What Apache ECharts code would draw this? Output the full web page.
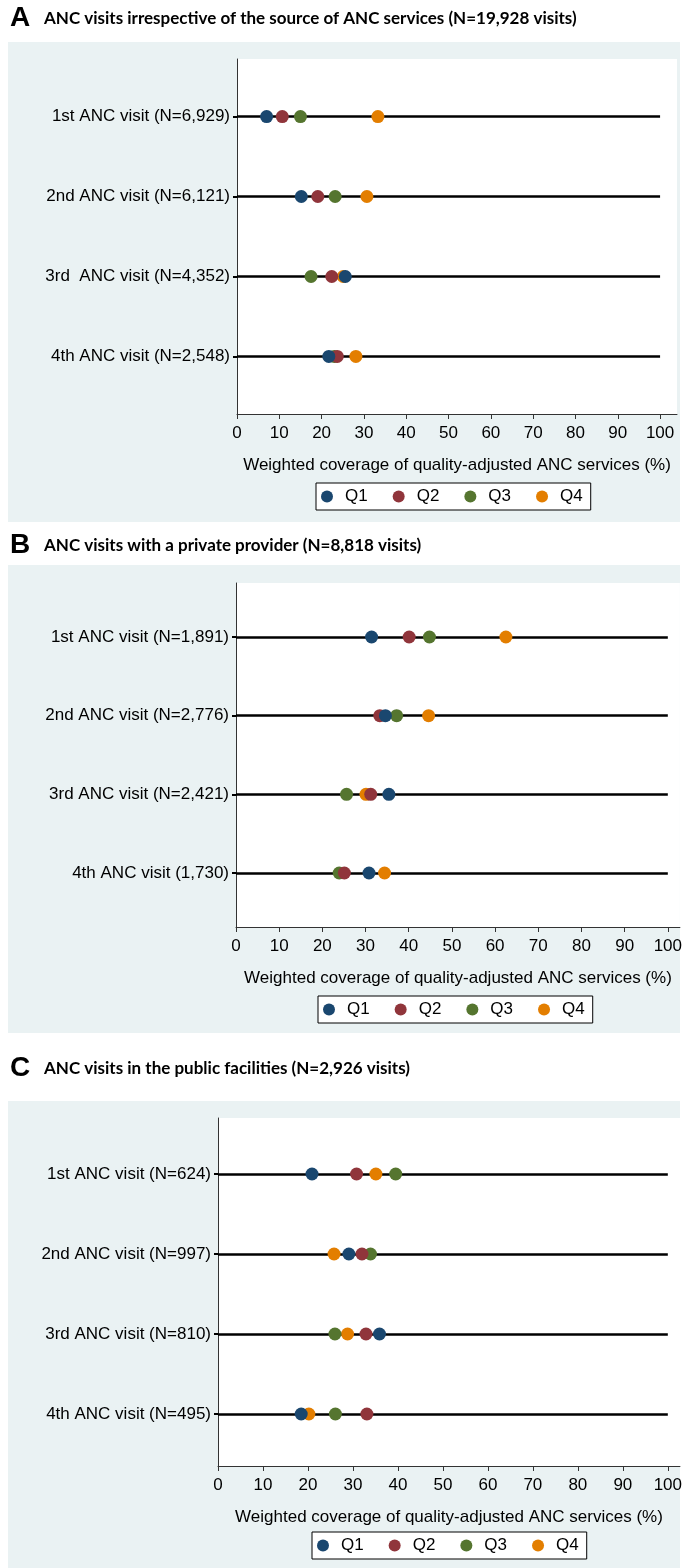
<!DOCTYPE html>
<html>
<head>
<meta charset="utf-8">
<script src="https://cdn.jsdelivr.net/npm/echarts@6/dist/echarts.min.js"></script>
<style>
  html, body { margin: 0; padding: 0; background: #fff; }
  #chart { width: 685px; height: 1568px; }
</style>
</head>
<body>
<div id="chart"></div>
<script>
// Wealth quintiles and their colours
const quintiles = ['Q1', 'Q2', 'Q3', 'Q4'];
const quintileColors = ['#1a476f', '#90353b', '#55752f', '#e37e00'];

// Panel A: all ANC visits
const titleA = 'ANC visits irrespective of the source of ANC services (N=19,928 visits)';
const visitsA = ['1st ANC visit (N=6,929)', '2nd ANC visit (N=6,121)', '3rd  ANC visit (N=4,352)', '4th ANC visit (N=2,548)'];
const q1A = [7.0, 15.2, 25.6, 21.7];
const q2A = [10.7, 19.1, 22.4, 23.7];
const q3A = [15.0, 23.2, 17.5, 23.0];
const q4A = [33.3, 30.7, 25.1, 28.1];

// Panel B: private provider
const titleB = 'ANC visits with a private provider (N=8,818 visits)';
const visitsB = ['1st ANC visit (N=1,891)', '2nd ANC visit (N=2,776)', '3rd ANC visit (N=2,421)', '4th ANC visit (1,730)'];
const q1B = [31.4, 34.6, 35.4, 30.8];
const q2B = [40.1, 33.3, 31.2, 25.1];
const q3B = [44.8, 37.2, 25.6, 23.9];
const q4B = [62.5, 44.6, 30.1, 34.4];

// Panel C: public facilities
const titleC = 'ANC visits in the public facilities (N=2,926 visits)';
const visitsC = ['1st ANC visit (N=624)', '2nd ANC visit (N=997)', '3rd ANC visit (N=810)', '4th ANC visit (N=495)'];
const q1C = [20.9, 29.1, 35.9, 18.5];
const q2C = [30.8, 32.0, 32.9, 33.1];
const q3C = [39.5, 33.9, 26.0, 26.1];
const q4C = [35.1, 25.8, 28.8, 20.2];

// Axis ticks and title
const xTicks = [0, 10, 20, 30, 40, 50, 60, 70, 80, 90, 100];
const xTitle = 'Weighted coverage of quality-adjusted ANC services (%)';

const panels = [
  { letter: 'A', title: titleA, visits: visitsA, values: [q1A, q2A, q3A, q4A],
    layout: { titleY: 20, bg: [8, 42, 672, 480], left: 237, top: 59, width: 440, height: 355,
              xMax: 104, yMin: 0.28, yMax: 4.72, legendLeft: 316, legendTop: 483 } },
  { letter: 'B', title: titleB, visits: visitsB, values: [q1B, q2B, q3B, q4B],
    layout: { titleY: 547, bg: [8, 565, 672, 468], left: 236, top: 583, width: 444, height: 344,
              xMax: 102.8, yMin: 0.314, yMax: 4.686, legendLeft: 318, legendTop: 996 } },
  { letter: 'C', title: titleC, visits: visitsC, values: [q1C, q2C, q3C, q4C],
    layout: { titleY: 1070, bg: [8, 1101, 672, 467], left: 218, top: 1118, width: 462, height: 348,
              xMax: 102.7, yMin: 0.3, yMax: 4.65, legendLeft: 312, legendTop: 1532 } }
];

const font = "'Liberation Sans', Arial, sans-serif";
const axisColor = '#333';
const fs = 17;

const grids = [], xAxes = [], yAxes = [], series = [], legends = [], graphics = [];

panels.forEach((p, pi) => {
  const L = p.layout;
  // panel background (graph region)
  graphics.push({ type: 'rect', z: -10, silent: true,
    shape: { x: L.bg[0], y: L.bg[1], width: L.bg[2], height: L.bg[3] },
    style: { fill: '#eaf2f3' } });
  graphics.push({ type: 'text', left: 10, top: L.titleY - 16, z: 10,
    style: { text: p.letter, font: "bold 28px " + font, fill: '#000' } });
  graphics.push({ type: 'text', left: 44, top: L.titleY - 10, z: 10,
    style: { text: p.title, font: "bold 17px Lato, 'Open Sans', sans-serif", fill: '#000' } });

  grids.push({ left: L.left, top: L.top, width: L.width, height: L.height,
    show: true, backgroundColor: '#fff', borderWidth: 0, containLabel: false });

  xAxes.push({ type: 'value', gridIndex: pi, min: 0, max: L.xMax,
    axisLine: { show: true, onZero: false, lineStyle: { color: axisColor, width: 1 } },
    axisTick: { show: true, length: 5, customValues: xTicks, lineStyle: { color: axisColor } },
    axisLabel: { customValues: xTicks, margin: 11, fontSize: fs, color: '#000', fontFamily: font },
    splitLine: { show: false },
    name: xTitle, nameLocation: 'middle', nameGap: 43,
    nameTextStyle: { fontSize: fs, color: '#000', fontFamily: font } });

  yAxes.push({ type: 'value', gridIndex: pi, inverse: true, min: L.yMin, max: L.yMax,
    axisLine: { show: true, onZero: false, lineStyle: { color: axisColor, width: 1 } },
    axisTick: { show: true, length: 4, customValues: [1, 2, 3, 4], lineStyle: { color: '#000', width: 2 } },
    axisLabel: { customValues: [1, 2, 3, 4], margin: 7, fontSize: fs, color: '#000', fontFamily: font,
      formatter: v => p.visits[Math.round(v) - 1] },
    splitLine: { show: false } });

  // horizontal reference line for each visit, from 0 to 100
  series.push({ type: 'lines', coordinateSystem: 'cartesian2d', xAxisIndex: pi, yAxisIndex: pi,
    silent: true, z: 1, polyline: false,
    lineStyle: { color: '#000', width: 2.5, opacity: 1 },
    data: p.visits.map((_, i) => ({ coords: [[0, i + 1], [100, i + 1]] })) });

  quintiles.forEach((q, qi) => {
    series.push({ type: 'scatter', name: q, xAxisIndex: pi, yAxisIndex: pi,
      symbol: 'circle', symbolSize: 13, z: 10 - qi,
      itemStyle: { color: quintileColors[qi], opacity: 1 },
      data: p.values[qi].map((v, i) => [v, i + 1]) });
  });

  legends.push({ data: quintiles, left: L.legendLeft, top: L.legendTop,
    orient: 'horizontal', icon: 'circle', itemWidth: 12, itemHeight: 12, itemGap: 25,
    padding: [5, 8, 5, 5], backgroundColor: '#fff', borderColor: '#000', borderWidth: 1, borderRadius: 0,
    textStyle: { fontSize: fs, color: '#000', fontFamily: font, padding: [0, 0, 0, 7] },
    selectedMode: false });
});

const chart = echarts.init(document.getElementById('chart'), null, { renderer: 'canvas' });
chart.setOption({
  animation: false,
  backgroundColor: '#fff',
  color: quintileColors,
  grid: grids, xAxis: xAxes, yAxis: yAxes, series: series, legend: legends,
  graphic: graphics
});
</script>
</body>
</html>
